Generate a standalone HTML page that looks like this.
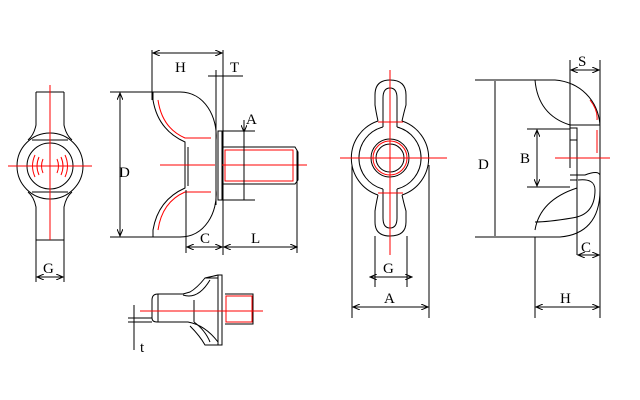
<!DOCTYPE html>
<html><head><style>body{margin:0;background:#fff}svg{display:block}text{font-family:"Liberation Serif",serif;font-size:15px;fill:#000;stroke:none}</style></head><body>
<svg width="640" height="400" viewBox="0 0 640 400" xmlns="http://www.w3.org/2000/svg" fill="none" stroke="#000" stroke-width="1">
<defs><marker id="a" markerWidth="8" markerHeight="6" refX="7" refY="3" orient="auto-start-reverse"><path d="M0,0L7,3L0,6" stroke="#000" fill="none"/></marker></defs>
<path d="M36,92H64M36,92V125Q34,135 28,140M64,92V125Q66,135 72,140"/>
<circle cx="50" cy="166" r="33"/>
<path d="M36,240V207Q34,197 28,192M64,240V207Q66,197 72,192M36,240H64"/>
<circle cx="50" cy="166" r="23"/>
<path d="M32,140H68M32,192H68"/>
<g stroke="red"><path d="M50,85V240M8,166H92"/>
<path d="M35,155Q30,166 35,177M39,157Q35,166 39,175M43,159Q40,166 43,173M65,155Q70,166 65,177M61,157Q65,166 61,175M57,159Q60,166 57,173"/></g>
<path d="M36,240V282M64,240V282"/>
<line x1="37" y1="277" x2="63" y2="277" marker-start="url(#a)" marker-end="url(#a)"/>
<text x="43" y="273">G</text>
<path d="M110,92H180M110,237H180"/>
<line x1="120" y1="93" x2="120" y2="236" marker-start="url(#a)" marker-end="url(#a)"/>
<text x="119" y="177">D</text>
<path d="M152,50V100M223,50V255M216,70V205"/>
<line x1="153" y1="53" x2="222" y2="53" marker-start="url(#a)" marker-end="url(#a)"/>
<text x="175" y="72">H</text>
<path d="M208,76H243"/><text x="230" y="72">T</text>
<path d="M180,92C205,92 218,118 216,140M153,92V100Q158,130 185,142V188Q158,200 153,230V237H180C205,237 218,212 216,190"/>
<path d="M218,131V200H222V131Z"/>
<path d="M188,147V186"/>
<g stroke="red"><path d="M158,100Q162,128 185,138H211M158,230Q162,202 185,192H211"/>
<path d="M160,165H215M222,165H307"/><rect x="225" y="150" width="68" height="31"/></g>
<path d="M223,147H295L298,152V180L295,184H223M297,150V253M186,190V253"/>
<path d="M222,131H255M222,200H255"/>
<line x1="244" y1="120" x2="244" y2="132" marker-end="url(#a)"/><line x1="244" y1="132" x2="244" y2="200"/>
<text x="246" y="124">A</text>
<line x1="187" y1="247" x2="222" y2="247" marker-start="url(#a)" marker-end="url(#a)"/>
<line x1="224" y1="247" x2="297" y2="247" marker-start="url(#a)" marker-end="url(#a)"/>
<text x="200" y="243">C</text><text x="251" y="243">L</text>
<path d="M152,300V318Q152,322 157,322H188Q205,325 218,342M152,300Q152,294 158,294H183L190,292Q197,288 205,278Q214,276 218,275"/>
<path d="M158,294V322M194,300V322M183,295Q198,300 210,280M194,322Q205,330 210,342"/>
<path d="M190,326Q200,336 205,345H220M205,278H218"/>
<path d="M218,275V345H222V275Z"/>
<path d="M225,294H253V324H225"/>
<g stroke="red"><rect x="226" y="296" width="26" height="26"/><path d="M140,311H263"/></g>
<path d="M128,318H152M128,322H152M134,305V350"/>
<text x="140" y="352">t</text>
<g>
<path d="M378,121Q376,112 375,105V95Q375,80 390,80Q406,80 406,95V105Q404,112 402,121"/>
<path d="M378,195Q376,204 375,211V222Q375,236 390,236Q406,236 406,222V211Q404,204 402,195"/>
<path d="M378,121A39,39 0 0 0 378,195M402,121A39,39 0 0 1 402,195"/>
<path d="M383,127V98Q383,88 390,88Q397,88 397,98V127"/>
<path d="M383,189V218Q383,228 390,228Q397,228 397,218V189"/>
<path d="M383,127A32,32 0 0 0 383,189M397,127A32,32 0 0 1 397,189"/>
<circle cx="390" cy="158" r="19"/><circle cx="390" cy="158" r="14"/>
</g>
<g stroke="red"><circle cx="390" cy="158" r="17"/><path d="M390,70V255M340,158H447M378,122H403M378,193H403"/></g>
<path d="M375,236V287M407,236V287M352,165V318M429,165V318"/>
<line x1="370" y1="277" x2="412" y2="277" marker-start="url(#a)" marker-end="url(#a)"/>
<text x="383" y="273">G</text>
<line x1="353" y1="307" x2="428" y2="307" marker-start="url(#a)" marker-end="url(#a)"/>
<text x="384" y="303">A</text>
<path d="M475,80H535M475,237H535"/>
<line x1="495" y1="81" x2="495" y2="236"/>
<text x="478" y="169">D</text>
<path d="M535,80H555C580,82 598,100 600,125M535,80Q538,115 570,125H600M535,237H560C585,235 600,220 600,190V175Q598,170 585,175H570"/>
<path d="M535,237V318M600,60V318M570,60V168M577,175V255"/>
<path d="M535,230Q540,200 577,188M535,222Q548,222 572,218Q595,215 595,190Q595,178 578,180"/>
<path d="M570,128H577V175M570,140H577M570,180H577"/>
<path d="M527,129H570M527,187H570"/>
<line x1="537" y1="130" x2="537" y2="186" marker-start="url(#a)" marker-end="url(#a)"/>
<text x="520" y="163">B</text>
<g stroke="red"><path d="M555,158H610M597,130V153M590,100Q598,110 597,120"/></g>
<line x1="571" y1="70" x2="599" y2="70" marker-start="url(#a)" marker-end="url(#a)"/>
<text x="578" y="66">S</text>
<line x1="578" y1="255" x2="599" y2="255" marker-start="url(#a)" marker-end="url(#a)"/>
<text x="581" y="252">C</text>
<line x1="536" y1="307" x2="599" y2="307" marker-start="url(#a)" marker-end="url(#a)"/>
<text x="560" y="303">H</text>
</svg></body></html>
